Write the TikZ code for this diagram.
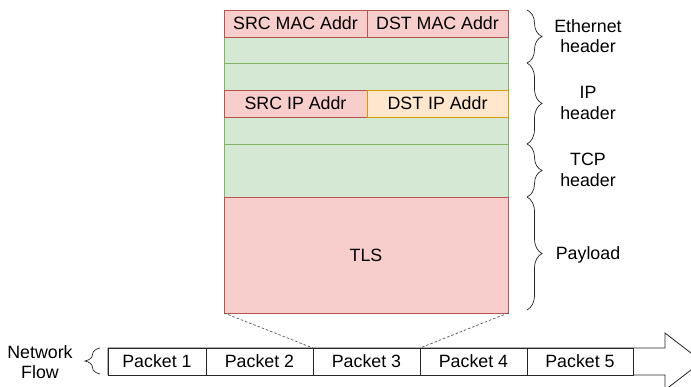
\documentclass[tikz,border=0pt]{standalone}
\usepackage{fontspec}
\setmainfont{Liberation Sans}
\usetikzlibrary{decorations.pathreplacing}
\definecolor{redfill}{HTML}{F8CECC}
\definecolor{redline}{HTML}{B85450}
\definecolor{greenfill}{HTML}{D5E8D4}
\definecolor{greenline}{HTML}{82B366}
\definecolor{orangefill}{HTML}{FFE6CC}
\definecolor{orangeline}{HTML}{D79B00}
\definecolor{dashgray}{HTML}{555555}
\begin{document}
\begin{tikzpicture}[x=1pt,y=-1pt,
  font=\fontsize{17.8}{20.5}\selectfont,
  cell/.style={rectangle,anchor=north west,inner sep=0pt,outer sep=0pt,line width=0.8pt},
  redbox/.style={cell,draw=redline,fill=redfill},
  greenbox/.style={cell,draw=greenline,fill=greenfill},
  orangebox/.style={cell,draw=orangeline,fill=orangefill},
  packet/.style={cell,draw=black!85,fill=white,minimum height=27pt},
  bracestyle/.style={draw=black!85,line width=0.7pt,decorate,decoration={brace,amplitude=15pt}},
  dashline/.style={draw=dashgray,line width=0.7pt,dash pattern=on 2.5pt off 2pt},
  label/.style={align=center,inner sep=0pt}]
\clip (0,0) rectangle (691,387);
\fill[white] (0,0) rectangle (691,387);

% header stack
\node[greenbox,minimum width=284pt,minimum height=26pt] (eth2) at (224,37) {};
\node[greenbox,minimum width=284pt,minimum height=27pt] (ip1) at (224,63) {};
\node[greenbox,minimum width=284pt,minimum height=27pt] (ip3) at (224,117) {};
\node[greenbox,minimum width=284pt,minimum height=53pt] (tcp) at (224,144) {};
\node[redbox,minimum width=284pt,minimum height=116pt] (tls) at (224,197) {TLS};
\node[redbox,minimum width=143pt,minimum height=27pt] (srcmac) at (224,10) {SRC MAC Addr};
\node[redbox,minimum width=141pt,minimum height=27pt] (dstmac) at (367,10) {DST MAC Addr};
\node[redbox,minimum width=143pt,minimum height=27pt] (srcip) at (224,90) {SRC IP Addr};
\node[orangebox,minimum width=141pt,minimum height=27pt] (dstip) at (367,90) {DST IP Addr};

% braces
\coordinate (b0) at (527,10);
\coordinate (b1) at (527,63);
\coordinate (b2) at (527,144);
\coordinate (b3) at (527,197);
\coordinate (b4) at (527,310);
\draw[bracestyle] (b0) -- (b1);
\draw[bracestyle] (b1) -- (b2);
\draw[bracestyle] (b2) -- (b3);
\draw[bracestyle] (b3) -- (b4);
\node[label] (lEth) at (588,36) {Ethernet\\header};
\node[label] (lIP) at (588,103) {IP\\header};
\node[label] (lTCP) at (588,170) {TCP\\header};
\node[label] (lPay) at (588,255) {Payload};

% flow arrow
\coordinate (a0) at (108,348);
\coordinate (a1) at (665,348);
\coordinate (a2) at (665,333);
\coordinate (a3) at (702,361.5);
\coordinate (a4) at (665,390);
\coordinate (a5) at (665,375);
\coordinate (a6) at (108,375);
\draw[draw=black!85,fill=white,line width=0.8pt] (a0) -- (a1) -- (a2) -- (a3) -- (a4) -- (a5) -- (a6) -- cycle;

\node[packet,minimum width=98pt] (p1) at (108,348) {Packet 1};
\node[packet,minimum width=107pt] (p2) at (206,348) {Packet 2};
\node[packet,minimum width=107pt] (p3) at (313,348) {Packet 3};
\node[packet,minimum width=107pt] (p4) at (420,348) {Packet 4};
\node[packet,minimum width=106pt] (p5) at (527,348) {Packet 5};

% dashed zoom lines
\draw[dashline] (tls.south west) -- (p3.north west);
\draw[dashline] (tls.south east) -- (p3.north east);

% network flow label
\coordinate (f0) at (100,374);
\coordinate (f1) at (100,348);
\draw[bracestyle] (f0) -- (f1);
\node[label] (lFlow) at (40,362) {Network\\Flow};
\end{tikzpicture}
\end{document}
